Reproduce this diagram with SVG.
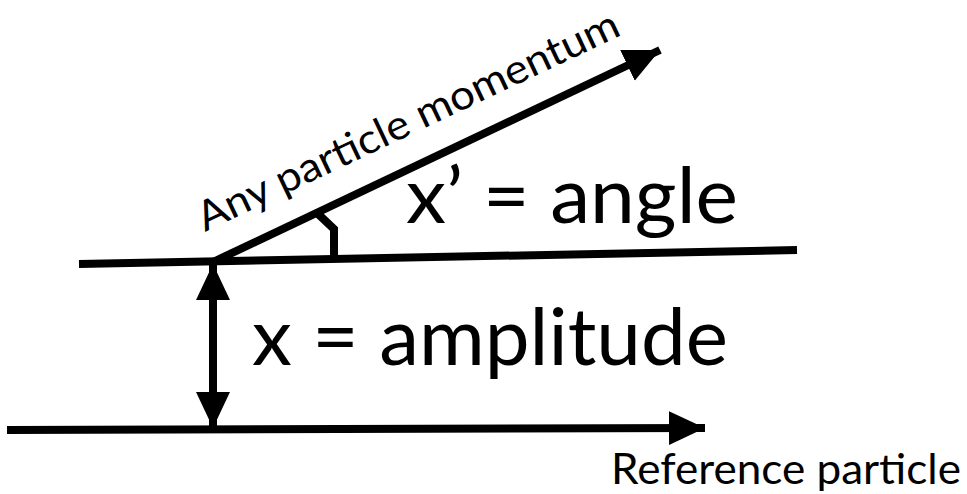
<svg xmlns="http://www.w3.org/2000/svg" width="967" height="494" viewBox="0 0 967 494">
<defs>
<marker id="ah" markerUnits="userSpaceOnUse" markerWidth="40" markerHeight="36" refX="36" refY="17" orient="auto">
<path d="M0,0 L36,17 L0,34 Z" fill="#000"/>
</marker>
<marker id="ahs" markerUnits="userSpaceOnUse" markerWidth="40" markerHeight="36" refX="0" refY="17" orient="auto">
<path d="M36,0 L0,17 L36,34 Z" fill="#000"/>
</marker>
</defs>
<style>
.ln{stroke:#000;stroke-width:8;fill:none}
.t{font-family:Lato,"Open Sans","Liberation Sans",sans-serif;fill:#000}
</style>
<rect width="967" height="494" fill="#fff"/>
<g id="connectors">
<line class="ln" x1="7" y1="430" x2="705" y2="428" marker-end="url(#ah)"/>
<line class="ln" x1="79" y1="264" x2="797" y2="250"/>
<line class="ln" x1="213" y1="262" x2="660" y2="50" marker-end="url(#ah)"/>
<line class="ln" x1="213" y1="264" x2="213" y2="428" marker-start="url(#ahs)" marker-end="url(#ah)"/>
<polyline class="ln" points="316,212 334,229 334,258"/>
</g>
<g id="label-momentum">
<text class="t" font-size="41" transform="translate(205,232) rotate(-25.3)" textLength="462" lengthAdjust="spacingAndGlyphs">Any particle momentum</text>
</g>
<g id="label-angle">
<text class="t" x="406" y="223" font-size="78" textLength="332" lengthAdjust="spacingAndGlyphs">x’ = angle</text>
</g>
<g id="label-amplitude">
<text class="t" x="252" y="365" font-size="80" textLength="476" lengthAdjust="spacingAndGlyphs">x = amplitude</text>
</g>
<g id="label-reference">
<text class="t" x="611" y="484" font-size="43" textLength="350" lengthAdjust="spacingAndGlyphs">Reference particle</text>
</g>
</svg>
